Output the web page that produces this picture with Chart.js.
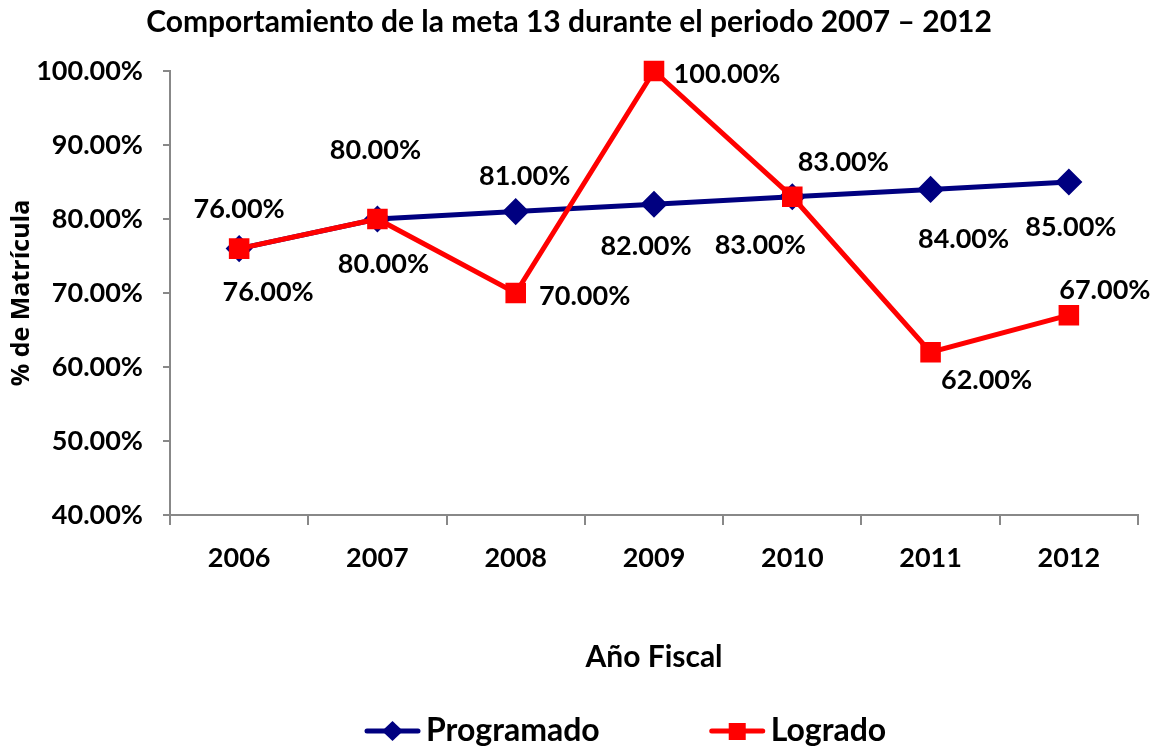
<!DOCTYPE html>
<html lang="es">
<head>
    <meta charset="UTF-8">
    <title>Comportamiento de la meta 13 durante el periodo 2007 – 2012</title>
    <script src="https://cdn.jsdelivr.net/npm/chart.js"></script>
    <style>
        body { margin: 0; background: #ffffff; }
        #grafica { display: block; }
    </style>
</head>
<body>
    <canvas id="grafica" width="1156" height="748"></canvas>

    <script>
        // Datos
        const anios = ['2006', '2007', '2008', '2009', '2010', '2011', '2012'];
        const programado = [76, 80, 81, 82, 83, 84, 85];
        const logrado = [76, 80, 70, 100, 83, 62, 67];
        const ticksY = [40, 50, 60, 70, 80, 90, 100];

        // Desplazamiento (px) de cada etiqueta respecto a su punto
        const posEtiquetas = [
            [[0, -39], [-2, -69], [9, -35], [-8, 42], [-32, 48], [33, 50], [2, 45]],
            [[29, 44], [6, 45], [69, 3], [73, 3], [51, -35], [56, 28], [36, -25]]
        ];

        const fuente = 'Lato';

        // Etiquetas de valor sobre cada punto
        const etiquetas = {
            id: 'etiquetas',
            afterDatasetsDraw(chart) {
                const ctx = chart.ctx;
                ctx.save();
                ctx.font = 'bold 27px ' + fuente;
                ctx.fillStyle = '#000';
                ctx.textAlign = 'center';
                ctx.textBaseline = 'middle';
                chart.data.datasets.forEach((ds, i) => {
                    chart.getDatasetMeta(i).data.forEach((pt, j) => {
                        const d = posEtiquetas[i][j];
                        ctx.fillText(ds.data[j].toFixed(2) + '%', pt.x + d[0], pt.y + d[1]);
                    });
                });
                ctx.restore();
            }
        };

        // Leyenda con línea y marcador, como en Excel
        const leyenda = {
            id: 'leyenda',
            afterDraw(chart) {
                const ctx = chart.ctx;
                const y = 731;
                let x = 367;
                ctx.save();
                ctx.font = 'bold 32px ' + fuente;
                ctx.textBaseline = 'middle';
                chart.data.datasets.forEach((ds) => {
                    ctx.strokeStyle = ds.borderColor;
                    ctx.lineWidth = 5;
                    ctx.lineCap = 'round';
                    ctx.beginPath();
                    ctx.moveTo(x, y);
                    ctx.lineTo(x + 51, y);
                    ctx.stroke();
                    ctx.fillStyle = ds.pointBackgroundColor;
                    ctx.beginPath();
                    if (ds.pointStyle === 'rectRot') {
                        ctx.moveTo(x + 25.5, y - 10);
                        ctx.lineTo(x + 36, y);
                        ctx.lineTo(x + 25.5, y + 10);
                        ctx.lineTo(x + 15, y);
                        ctx.closePath();
                        ctx.fill();
                    } else {
                        ctx.fillRect(x + 17, y - 8, 17, 17);
                    }
                    ctx.fillStyle = '#000';
                    ctx.fillText(ds.label, x + 59, y);
                    x += 59 + ctx.measureText(ds.label).width + 112;
                });
                ctx.restore();
            }
        };

        const ctx = document.getElementById('grafica').getContext('2d');

        const grafica = new Chart(ctx, {
            type: 'line',
            data: {
                labels: anios,
                datasets: [{
                    label: 'Programado',
                    data: programado,
                    borderColor: '#000080',
                    backgroundColor: '#000080',
                    pointBackgroundColor: '#000080',
                    pointBorderColor: '#000080',
                    pointStyle: 'rectRot',
                    pointRadius: 10,
                    borderWidth: 5,
                    tension: 0,
                    clip: false,
                    order: 2
                }, {
                    label: 'Logrado',
                    data: logrado,
                    borderColor: '#ff0000',
                    backgroundColor: '#ff0000',
                    pointBackgroundColor: '#ff0000',
                    pointBorderColor: '#ff0000',
                    pointStyle: 'rect',
                    pointRadius: 11,
                    borderWidth: 5,
                    tension: 0,
                    clip: false,
                    order: 1
                }]
            },
            options: {
                responsive: false,
                animation: false,
                devicePixelRatio: 1,
                layout: { padding: { left: 0, right: 18, top: 0, bottom: 60 } },
                plugins: {
                    legend: { display: false },
                    tooltip: { enabled: false },
                    title: {
                        display: true,
                        text: 'Comportamiento de la meta 13 durante el periodo 2007 – 2012',
                        color: '#000',
                        font: { family: fuente, size: 30, weight: 'bold' },
                        padding: { top: 4, bottom: 31 }
                    }
                },
                scales: {
                    x: {
                        offset: true,
                        afterFit: (s) => { s.height = 173; },
                        grid: { offset: true, drawOnChartArea: false, tickLength: 10, color: '#888', lineWidth: 2 },
                        border: { color: '#888', width: 2 },
                        ticks: { color: '#000', padding: 17, font: { family: fuente, size: 27, weight: 'bold' } },
                        title: {
                            display: true,
                            text: 'Año Fiscal',
                            color: '#000',
                            font: { family: fuente, size: 30, weight: 'bold' },
                            padding: { top: 0, bottom: 13 }
                        }
                    },
                    y: {
                        min: 40,
                        max: 100,
                        afterFit: (s) => { s.width = 170; },
                        afterBuildTicks: (s) => { s.ticks = ticksY.map(v => ({ value: v })); },
                        grid: { drawOnChartArea: false, tickLength: 7, color: '#888', lineWidth: 2 },
                        border: { color: '#888', width: 2 },
                        ticks: {
                            color: '#000',
                            padding: 20,
                            font: { family: fuente, size: 27, weight: 'bold' },
                            callback: (v) => v.toFixed(2) + '%'
                        },
                        title: {
                            display: true,
                            text: '% de Matrícula',
                            color: '#000',
                            font: { family: 'Open Sans', size: 25, weight: 'bold' },
                            padding: { top: 7, bottom: 0 }
                        }
                    }
                }
            },
            plugins: [etiquetas, leyenda]
        });
    </script>
</body>
</html>
